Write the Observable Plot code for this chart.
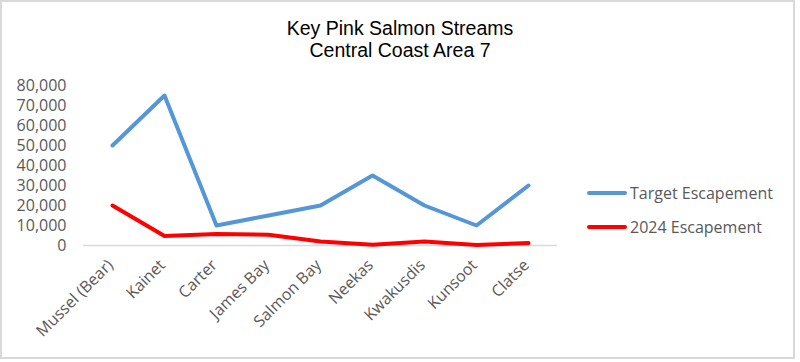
<!DOCTYPE html>
<html>
<head>
<meta charset="utf-8">
<script src="https://cdn.jsdelivr.net/npm/d3@7"></script>
<script src="https://cdn.jsdelivr.net/npm/@observablehq/plot@0.6"></script>
<style>
  html, body { margin: 0; padding: 0; background: #fff; }
  #wrap { position: relative; width: 800px; height: 362px; overflow: hidden; }
  #frame { position: absolute; left: 0; top: 0; width: 791px; height: 355px; border: 2px solid #d9d9d9; pointer-events: none; }
  #title { position: absolute; left: 0; top: 17px; width: 800px; text-align: center; font-family: "Liberation Sans", Arial, sans-serif; font-size: 19.5px; line-height: 22px; color: #000; }
  #legend { position: absolute; left: 587px; top: 176px; font-family: "Open Sans", sans-serif; font-size: 16px; color: #595959; }
  .item { display: flex; align-items: center; height: 34px; }
  .sw { width: 40px; height: 4px; border-radius: 2px; margin-right: 3px; }
  #chart { position: absolute; left: 0; top: 0; }
</style>
</head>
<body>
<div id="wrap">
  <div id="chart"></div>
  <div id="title">Key Pink Salmon Streams<br>Central Coast Area 7</div>
  <div id="legend"></div>
  <div id="frame"></div>
</div>
<script>
const streams = ["Mussel (Bear)", "Kainet", "Carter", "James Bay", "Salmon Bay", "Neekas", "Kwakusdis", "Kunsoot", "Clatse"];
const targetEscapement = [50000, 75000, 10000, 15000, 20000, 35000, 20000, 10000, 30000];
const escapement2024 = [20000, 4800, 5800, 5400, 2000, 400, 2000, 300, 1200];
const seriesNames = ["Target Escapement", "2024 Escapement"];
const seriesColors = ["#5597d6", "#ff0000"];
const yTicks = [0, 10000, 20000, 30000, 40000, 50000, 60000, 70000, 80000];

const rows = [];
streams.forEach((s, i) => {
  rows.push({stream: s, series: seriesNames[0], value: targetEscapement[i]});
  rows.push({stream: s, series: seriesNames[1], value: escapement2024[i]});
});

const chart = Plot.plot({
  width: 800,
  height: 362,
  marginLeft: 83,
  marginRight: 243,
  marginTop: 85,
  marginBottom: 117,
  style: {fontFamily: "'Open Sans', sans-serif", fontSize: "15.5px", color: "#595959", background: "transparent"},
  x: {type: "point", domain: streams, padding: 0.5, label: null},
  y: {domain: [0, 80000], label: null},
  color: {domain: seriesNames, range: seriesColors},
  marks: [
    Plot.ruleY([0], {stroke: "#d9d9d9", strokeWidth: 1.5}),
    Plot.axisY({ticks: yTicks, tickFormat: d3.format(","), tickSize: 0, tickPadding: 17, label: null, fill: "#595959", fontSize: 16}),
    Plot.axisX({tickSize: 0, tickPadding: 17, dx: -2, tickRotate: -45, label: null, fill: "#595959", fontSize: 16}),
    Plot.line(rows, {x: "stream", y: "value", z: "series", stroke: "series", strokeWidth: 4, strokeLinejoin: "round", strokeLinecap: "round"})
  ]
});
document.getElementById("chart").appendChild(chart);

const legend = document.getElementById("legend");
seriesNames.forEach((n, i) => {
  const it = document.createElement("div");
  it.className = "item";
  const sw = document.createElement("div");
  sw.className = "sw";
  sw.style.background = seriesColors[i];
  const t = document.createElement("span");
  t.textContent = n;
  it.appendChild(sw);
  it.appendChild(t);
  legend.appendChild(it);
});
</script>
</body>
</html>
